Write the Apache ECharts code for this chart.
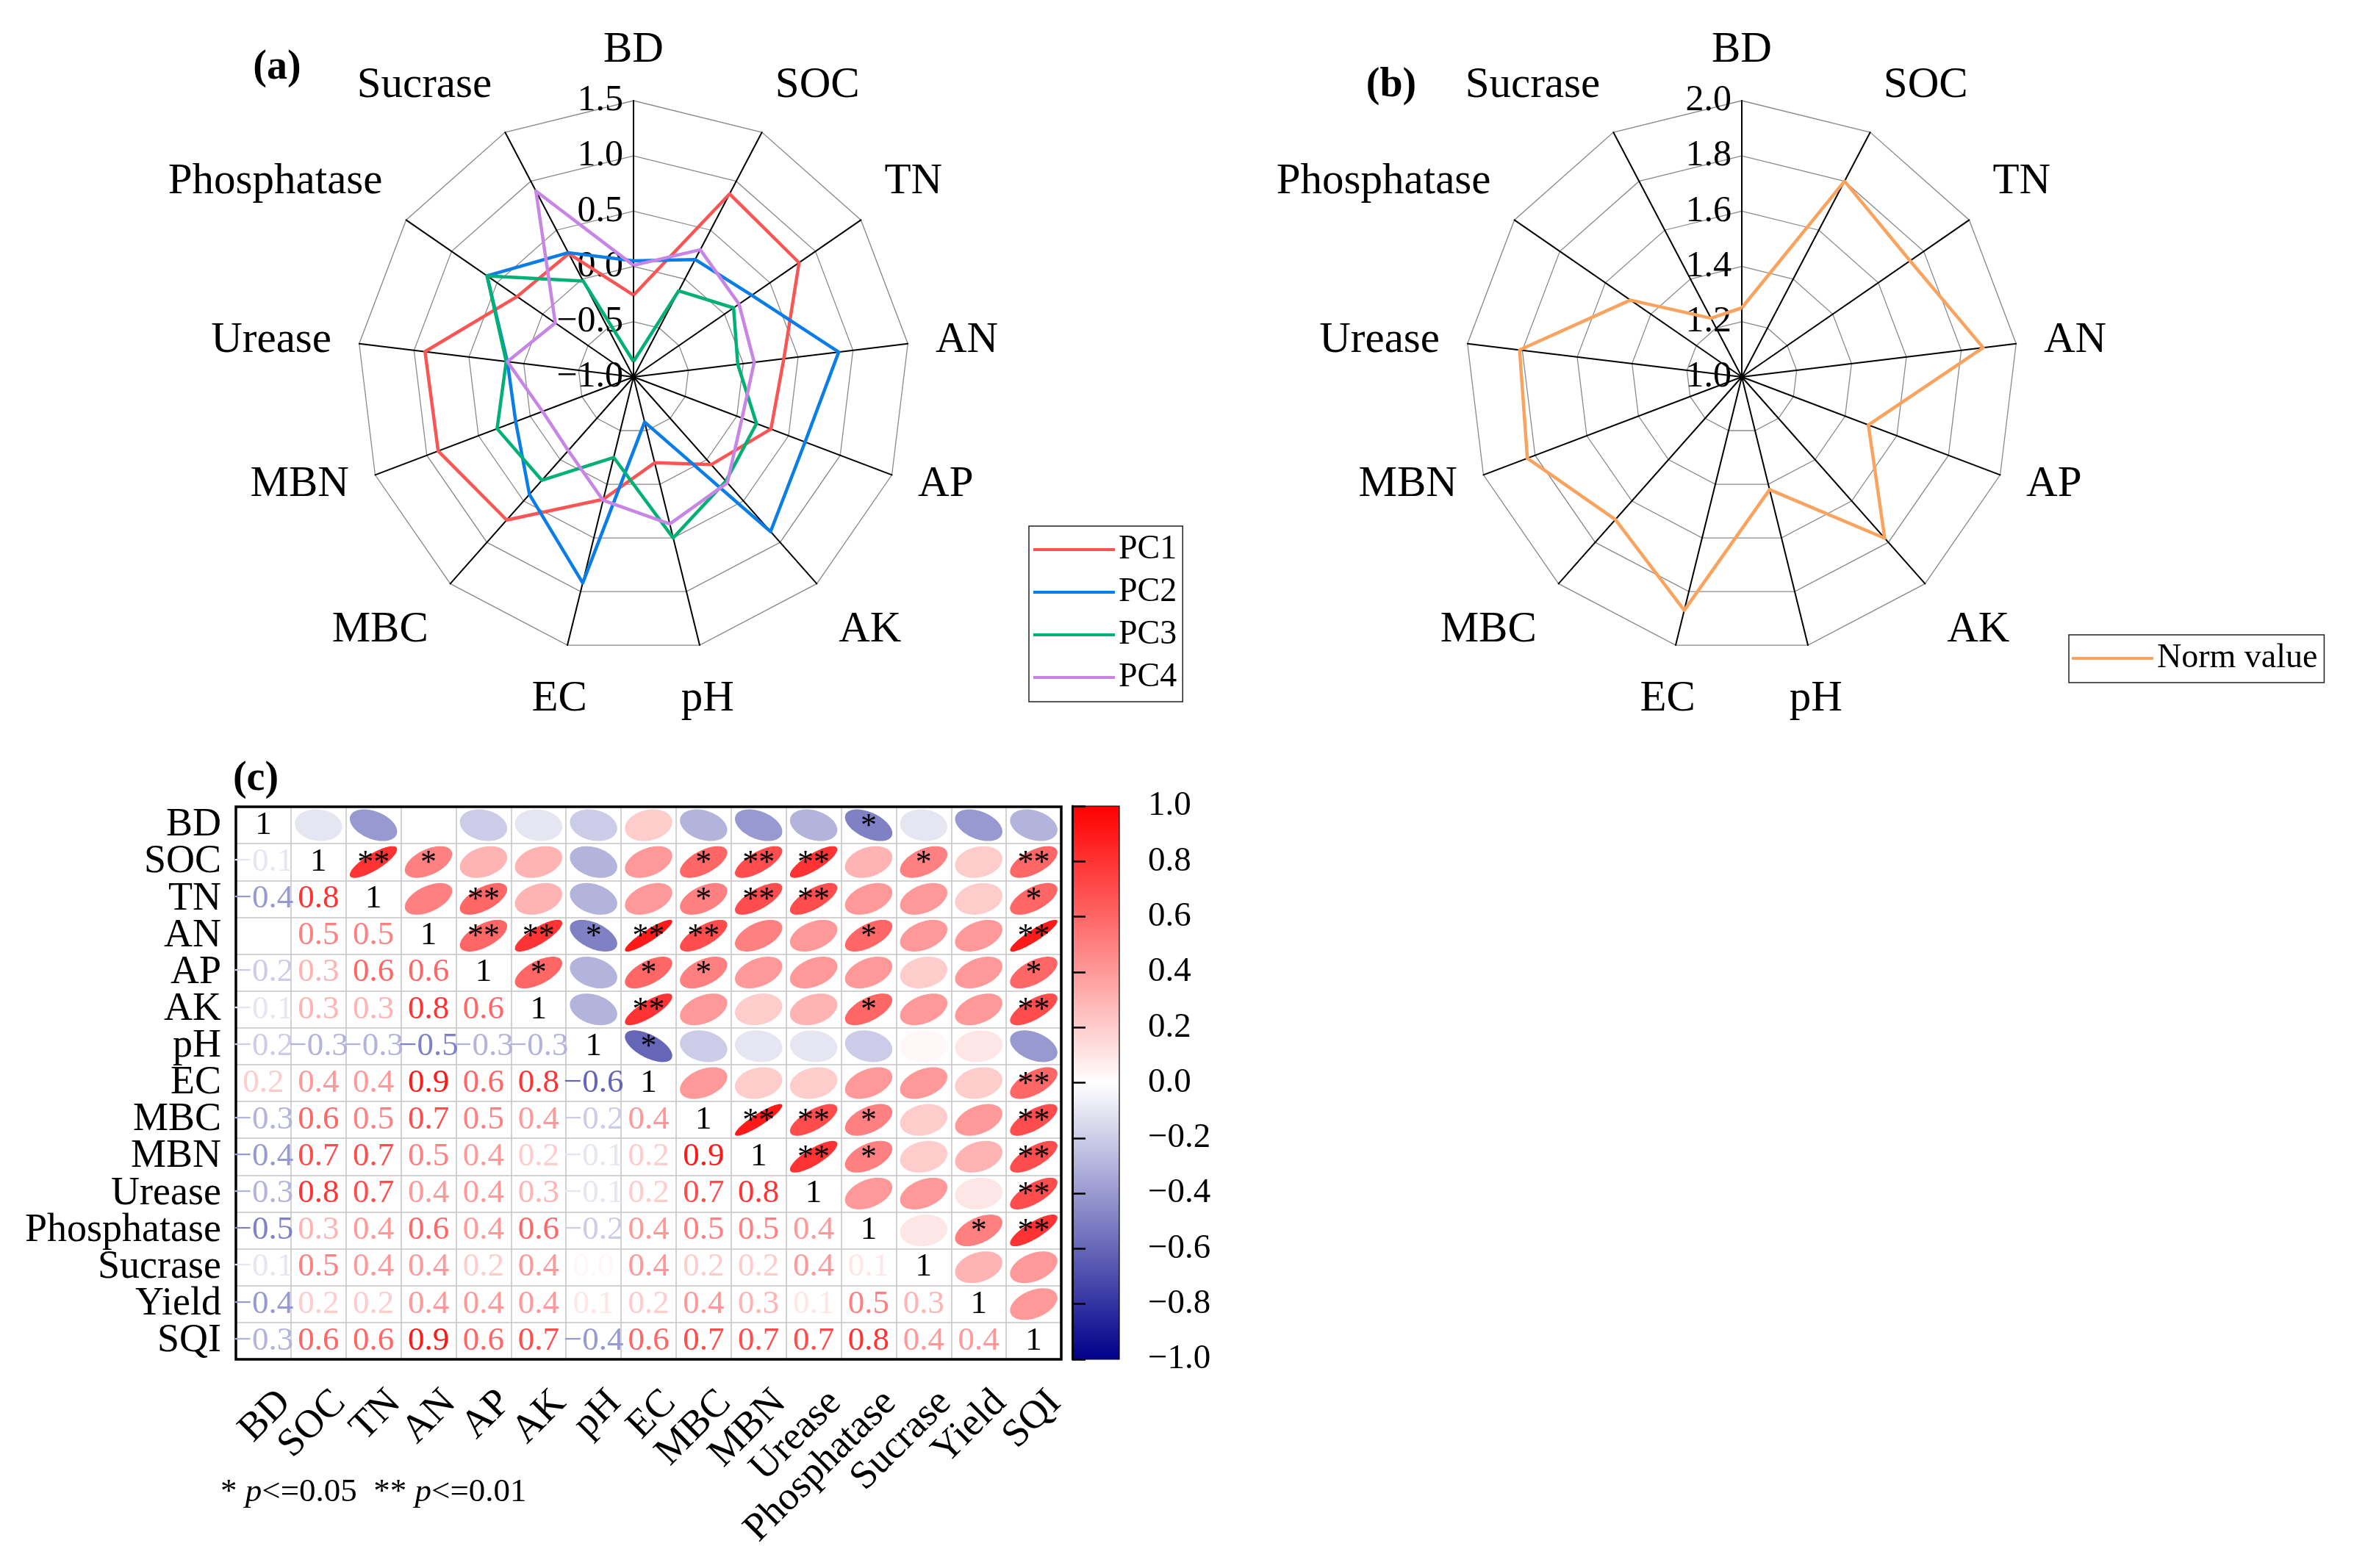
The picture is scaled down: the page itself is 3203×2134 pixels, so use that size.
<!DOCTYPE html>
<html><head><meta charset="utf-8">
<script src="https://cdn.jsdelivr.net/npm/echarts@6/dist/echarts.min.js"></script>
<style>html,body{margin:0;padding:0;background:#fff}#c{width:3203px;height:2134px}</style>
</head><body><div id="c"></div><script>
// ---------- data ----------
const radarNames = ['BD','SOC','TN','AN','AP','AK','pH','EC','MBC','MBN','Urease','Phosphatase','Sucrase'];
const pc1 = [-0.26, 0.87, 0.82, 0.37, 0.33, 0.06, -0.20, 0.14, 0.73, 0.89, 0.90, 0.28, 0.26];
const pc2 = [0.05, 0.20, 0.30, 0.87, 0.66, 0.87, -0.58, 0.92, 0.42, 0.14, 0.15, 0.61, 0.27];
const pc3 = [-0.86, -0.12, 0.10, -0.05, 0.19, 0.26, 0.50, -0.25, 0.25, 0.32, 0.16, 0.61, -0.02];
const pc4 = [0.01, 0.30, 0.16, 0.10, 0.05, 0.28, 0.37, 0.15, -0.11, -0.12, 0.15, -0.14, 0.90];
const normValue = [1.25, 1.80, 1.74, 1.88, 1.49, 1.78, 1.42, 1.87, 1.69, 1.83, 1.81, 1.49, 1.24];
const radarARange = [-1.0, 1.5];
const radarBRange = [1.0, 2.0];
const radarSplits = 5;

const matVars = ['BD','SOC','TN','AN','AP','AK','pH','EC','MBC','MBN','Urease','Phosphatase','Sucrase','Yield','SQI'];
const corrLower = [
  [],
  [-0.1],
  [-0.4, 0.8],
  [0.0, 0.5, 0.5],
  [-0.2, 0.3, 0.6, 0.6],
  [-0.1, 0.3, 0.3, 0.8, 0.6],
  [-0.2, -0.3, -0.3, -0.5, -0.3, -0.3],
  [0.2, 0.4, 0.4, 0.9, 0.6, 0.8, -0.6],
  [-0.3, 0.6, 0.5, 0.7, 0.5, 0.4, -0.2, 0.4],
  [-0.4, 0.7, 0.7, 0.5, 0.4, 0.2, -0.1, 0.2, 0.9],
  [-0.3, 0.8, 0.7, 0.4, 0.4, 0.3, -0.1, 0.2, 0.7, 0.8],
  [-0.5, 0.3, 0.4, 0.6, 0.4, 0.6, -0.2, 0.4, 0.5, 0.5, 0.4],
  [-0.1, 0.5, 0.4, 0.4, 0.2, 0.4, 0.03, 0.4, 0.2, 0.2, 0.4, 0.1],
  [-0.4, 0.2, 0.2, 0.4, 0.4, 0.4, 0.1, 0.2, 0.4, 0.3, 0.1, 0.5, 0.3],
  [-0.3, 0.6, 0.6, 0.9, 0.6, 0.7, -0.4, 0.6, 0.7, 0.7, 0.7, 0.8, 0.4, 0.4]
];
// [row, col, stars] for upper triangle
const sigMarks = [
  [0,11,'*'],
  [1,2,'**'],[1,3,'*'],[1,8,'*'],[1,9,'**'],[1,10,'**'],[1,12,'*'],[1,14,'**'],
  [2,4,'**'],[2,8,'*'],[2,9,'**'],[2,10,'**'],[2,14,'*'],
  [3,4,'**'],[3,5,'**'],[3,6,'*'],[3,7,'**'],[3,8,'**'],[3,11,'*'],[3,14,'**'],
  [4,5,'*'],[4,7,'*'],[4,8,'*'],[4,14,'*'],
  [5,7,'**'],[5,11,'*'],[5,14,'**'],
  [6,7,'*'],
  [7,14,'**'],
  [8,9,'**'],[8,10,'**'],[8,11,'*'],[8,14,'**'],
  [9,10,'**'],[9,11,'*'],[9,14,'**'],
  [10,14,'**'],
  [11,13,'*'],[11,14,'**']
];
const colorbarRange = [-1, 1];
const colorbarStep = 0.2;

// ---------- helpers ----------
const FF = '"Liberation Serif","Times New Roman",serif';
function fmt(v){ return (v < -1e-9 ? '\u2212' : '') + Math.abs(v).toFixed(1); }
function cmap(v){
  v = Math.max(-1, Math.min(1, v));
  let r,g,b;
  if (v >= 0){ r = 255; g = Math.round(255*(1-v)); b = g; }
  else { const t = -v; r = Math.round(255*(1-t)); g = r; b = Math.round(255 - 116*t); }
  return 'rgb(' + r + ',' + g + ',' + b + ')';
}
const n = matVars.length;
function corr(i,j){ if (i===j) return 1; return i>j ? corrLower[i][j] : corrLower[j][i]; }
const sigMap = {};
sigMarks.forEach(s => { sigMap[s[0]+'_'+s[1]] = s[2]; });

const upperData = [], lowerData = [];
for (let i=0;i<n;i++) for (let j=0;j<n;j++){
  if (j>i) upperData.push([j, i, corr(i,j), sigMap[i+'_'+j] || '']);
  else lowerData.push([j, i, corr(i,j)]);
}

// radar order: ECharts lays indicators counter-clockwise, reference is clockwise
const ord = [0]; for (let k=radarNames.length-1;k>=1;k--) ord.push(k);
function reorder(arr){ return ord.map(k => arr[k]); }

// name alignment by direction (clockwise angle from top)
function nameLayout(k){
  const ang = k * 360 / radarNames.length;
  const s = Math.sin(ang*Math.PI/180), c = Math.cos(ang*Math.PI/180);
  const align = Math.abs(s) < 0.3 ? 'center' : (s > 0 ? 'left' : 'right');
  const va = c > 0.45 ? 'bottom' : (c < -0.45 ? 'top' : 'middle');
  const gap = va === 'top' ? 45 : (va === 'bottom' ? 39 : 38);
  return {style: {align: align, verticalAlign: va}, gap: gap};
}

function radarComp(center, range){
  return {
    center: center, radius: 376, startAngle: 90, shape: 'polygon', splitNumber: radarSplits,
    indicator: ord.map((k, idx) => {
      const L = nameLayout(k);
      const o = {name: radarNames[k], min: range[0], max: range[1], nameTextStyle: L.style, nameGap: L.gap};
      if (idx === 0) o.axisLabel = {show: true};
      return o;
    }),
    axisName: {color:'#000', fontSize:59, fontFamily: FF},
    nameGap: 40,
    axisLine: {lineStyle:{color:'#000', width:2}},
    splitLine: {lineStyle:{color:'#8a8a8a', width:1.3}},
    splitArea: {show:false},
    axisTick: {show:false},
    axisLabel: {show:false, fontSize:50, fontFamily: FF, color:'#000', margin: 14,
      formatter: v => fmt(v)}
  };
}

const pcColors = ['#F95555','#0A7EE6','#00B074','#C785E5'];
const pcData = [pc1, pc2, pc3, pc4];
const series = pcData.map((d, i) => ({
  type:'radar', radarIndex:0, symbol:'none', silent:true,
  lineStyle:{color: pcColors[i], width:4.5}, itemStyle:{color: pcColors[i]},
  data:[{name:'PC'+(i+1), value: reorder(d)}]
}));
series.push({
  type:'radar', radarIndex:1, symbol:'none', silent:true,
  lineStyle:{color:'#F9A35E', width:4.5}, itemStyle:{color:'#F9A35E'},
  data:[{name:'Norm value', value: reorder(normValue)}]
});

// correlation ellipses
series.push({
  type:'custom', xAxisIndex:0, yAxisIndex:0, silent:true, z:3,
  data: upperData,
  renderItem: function(params, api){
    const c = api.coord([api.value(0), api.value(1)]);
    const s = api.size([1,1]);
    const rho = api.value(2);
    const a = Math.acos(Math.max(-1, Math.min(1, rho)))/2;
    const hw = s[0]*0.43, hh = s[1]*0.43;
    const pts = [];
    for (let k=0;k<96;k++){
      const t = k/96*2*Math.PI;
      pts.push([c[0] + hw*Math.cos(t + a), c[1] - hh*Math.cos(t - a)]);
    }
    const stars = upperData[params.dataIndex][3];
    const children = [{type:'polygon', shape:{points: pts}, style:{fill: cmap(rho), stroke:null}}];
    if (stars) children.push({type:'text', x:c[0], y:c[1]+2, style:{text: stars, fill:'#000',
      font:'44px ' + FF, align:'center', verticalAlign:'middle'}});
    return {type:'group', children: children};
  }
});
// lower triangle numbers + diagonal
series.push({
  type:'custom', xAxisIndex:0, yAxisIndex:0, silent:true, z:3,
  data: lowerData,
  renderItem: function(params, api){
    const c = api.coord([api.value(0), api.value(1)]);
    const v = api.value(2);
    const diag = api.value(0) === api.value(1);
    return {type:'text', x:c[0], y:c[1], style:{
      text: diag ? '1' : fmt(v), fill: diag ? '#000' : cmap(v),
      font: '45px ' + FF, align:'center', verticalAlign:'middle'}};
  }
});
// colorbar
series.push({
  type:'custom', xAxisIndex:1, yAxisIndex:1, silent:true,
  data:[[0, colorbarRange[0], colorbarRange[1]]],
  renderItem: function(params, api){
    const p0 = api.coord([0, api.value(1)]);
    const p1 = api.coord([1, api.value(2)]);
    const stops = [];
    for (let k=0;k<=20;k++){ const v = -1 + k*0.1; stops.push({offset:k/20, color: cmap(v)}); }
    return {type:'rect', shape:{x:p0[0], y:p1[1], width:p1[0]-p0[0], height:p0[1]-p1[1]},
      style:{fill: new echarts.graphic.LinearGradient(0,1,0,0, stops)}};
  }
});

const option = {
  backgroundColor:'#fff',
  animation:false,
  textStyle:{fontFamily: FF},
  radar:[ radarComp([862, 513], radarARange), radarComp([2370, 513], radarBRange) ],
  legend:[
    {orient:'vertical', left:1400, top:716, data:['PC1','PC2','PC3','PC4'], icon:'rect',
      itemWidth:111, itemHeight:4, itemGap:12, padding:[9,8,10,6], borderColor:'#222', borderWidth:1.5,
      selectedMode:false, textStyle:{fontSize:46, fontFamily:FF, color:'#000', lineHeight:45}},
    {orient:'vertical', left:2815, top:864, data:['Norm value'], icon:'rect',
      itemWidth:111, itemHeight:4, padding:[9,9,10,4], borderColor:'#222', borderWidth:1.5,
      selectedMode:false, textStyle:{fontSize:46, fontFamily:FF, color:'#000', lineHeight:45}}
  ],
  grid:[
    {left:321, top:1098, width:1123, height:752, show:true, borderColor:'#000', borderWidth:3.5, z:1,
      backgroundColor:'transparent', outerBoundsMode:'none', containLabel:false},
    {left:1459, top:1097, width:64, height:753, show:true, borderColor:'#000', borderWidth:1.2, z:3,
      backgroundColor:'transparent', outerBoundsMode:'none', containLabel:false}
  ],
  xAxis:[
    {type:'category', gridIndex:0, data: matVars.map((d,i)=>i), boundaryGap:true, z:0,
      axisLine:{show:false}, axisTick:{show:false},
      splitLine:{show:true, interval:0, lineStyle:{color:'#c4c4c4', width:1.5}},
      axisLabel:{show:true, interval:0, rotate:45, margin:80, padding:[0,-41,0,0],
        fontSize:54, fontFamily:FF, color:'#000', formatter: v => matVars[+v]}},
    {type:'value', gridIndex:1, min:0, max:1, show:false}
  ],
  yAxis:[
    {type:'category', gridIndex:0, inverse:true, data: matVars.map((d,i)=>i), boundaryGap:true, z:0,
      axisLine:{show:false}, axisTick:{show:false},
      splitLine:{show:true, interval:0, lineStyle:{color:'#c4c4c4', width:1.5}},
      axisLabel:{show:true, interval:0, margin:20, fontSize:54, fontFamily:FF, color:'#000',
        formatter: v => matVars[+v]}},
    {type:'value', gridIndex:1, position:'right', min:colorbarRange[0], max:colorbarRange[1], interval:colorbarStep,
      splitLine:{show:false}, z:4,
      axisLine:{show:true, lineStyle:{color:'#000', width:3}},
      axisTick:{show:true, inside:false, length:18, lineStyle:{color:'#000', width:2.5}},
      axisLabel:{show:true, margin:39, fontSize:47, fontFamily:FF, color:'#000', align:'left',
        formatter: v => fmt(v)}}
  ],
  graphic:[
    {type:'text', x:377, y:93, style:{text:'(a)', font:'bold 56px ' + FF, fill:'#000', align:'center', verticalAlign:'middle'}},
    {type:'text', x:1893, y:117, style:{text:'(b)', font:'bold 56px ' + FF, fill:'#000', align:'center', verticalAlign:'middle'}},
    {type:'text', x:348, y:1061, style:{text:'(c)', font:'bold 56px ' + FF, fill:'#000', align:'center', verticalAlign:'middle'}},
    {type:'text', x:300, y:2031, style:{text:'* {i|p}<=0.05  ** {i|p}<=0.01', font:'45px ' + FF, fill:'#000',
      align:'left', verticalAlign:'middle', rich:{i:{fontStyle:'italic', fontSize:45, fontFamily:FF}}}}
  ],
  series: series
};
const chart = echarts.init(document.getElementById('c'), null, {renderer:'canvas'});
chart.setOption(option);
</script></body></html>
